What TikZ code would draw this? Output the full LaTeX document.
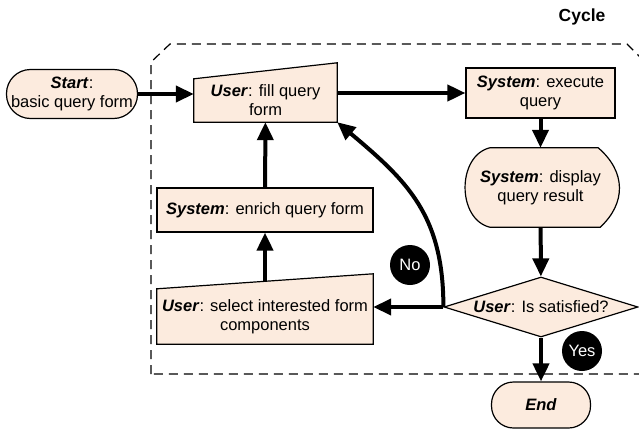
\documentclass[tikz,border=0pt]{standalone}
\usepackage{fontspec}
\setmainfont{Liberation Sans}
\usetikzlibrary{shapes.geometric,arrows.meta,backgrounds}
\definecolor{peach}{RGB}{252,235,222}
\newcommand{\role}[1]{\textbf{\textit{#1}}}

\begin{document}
\begin{tikzpicture}[x=1pt,y=-1pt,
    font=\fontsize{16.5}{19}\selectfont,
    box/.style={draw,fill=peach,line width=1.2pt,inner sep=0pt,align=center},
    textonly/.style={inner sep=0pt,align=center},
    flow/.style={line width=4pt,-{Triangle[length=18pt,width=16pt]}},
    badge/.style={circle,fill=black,text=white,minimum size=40pt,inner sep=0pt},
    region/.style={dash pattern=on 9pt off 6pt,line width=1.2pt}]
  \useasboundingbox (0,0) rectangle (639,428);
  \draw[region] (151,374) -- (151,62) -- (170,44) -- (627,44) -- (670,87) -- (670,374) -- cycle;
  \path
    (72,94) node[box,rounded corners=24pt,minimum width=131pt,minimum height=49pt] (start) {\role{Start}:\\basic query form}
    (265.5,100.5) node[textonly,minimum width=143pt,minimum height=43pt] (fill) {\role{User}: fill query\\form}
    (540.5,93) node[box,minimum width=149pt,minimum height=50pt] (exec) {\role{System}: execute\\query}
    (540.5,187.5) node[textonly,minimum width=155pt,minimum height=79pt] (show) {\role{System}: display\\query result}
    (541,307) node[box,diamond,shape aspect=3.3,minimum width=194pt,minimum height=60pt] (check) {\role{User}: Is satisfied?}
    (541,405) node[box,rounded corners=22pt,minimum width=99pt,minimum height=46pt] (end) {\role{End}}
    (265,210) node[box,minimum width=216pt,minimum height=44pt] (enrich) {\role{System}: enrich query form}
    (265,316.5) node[textonly,minimum width=216pt,minimum height=55pt] (pick) {\role{User}: select interested form\\components}
    (410,265) node[badge] (no) {No}
    (582,351) node[badge] (yes) {Yes}
    (582,17) node[font=\fontsize{17.5}{19}\selectfont\bfseries] (cycle) {Cycle};
  \begin{scope}[on background layer]
    \draw[box] (fill.south west) -- (fill.south east) -- ([yshift=16pt]fill.north east) -- (fill.north west) -- cycle;
    \draw[box] (pick.south west) -- (pick.south east) -- ([yshift=15pt]pick.north east) -- (pick.north west) -- cycle;
    \draw[box] ([xshift=27pt]show.north west) -- ([xshift=-20pt]show.north east)
      .. controls ([xshift=8pt,yshift=-24pt]show.north east) and ([xshift=8pt,yshift=24pt]show.south east) .. ([xshift=-18pt]show.south east)
      -- ([xshift=27pt]show.south west)
      .. controls ([xshift=-6pt,yshift=8pt]show.south west) and ([xshift=-6pt,yshift=-8pt]show.north west) .. cycle;
  \end{scope}
  \begin{scope}[flow]
    \draw (start.east) to (start.east -| fill.west);
    \draw (exec.west -| fill.east) to (exec.west);
    \draw (exec) to (show);
    \draw (show) to (check);
    \draw (check) to (end);
    \draw (check.west) to (check.west -| pick.east);
    \draw (check.west) to[out=90,in=-40,looseness=1.1] (fill.south east);
    \draw ([yshift=7.5pt]pick.north) to (enrich);
    \draw (enrich) to (fill);
  \end{scope}
\end{tikzpicture}
\end{document}
